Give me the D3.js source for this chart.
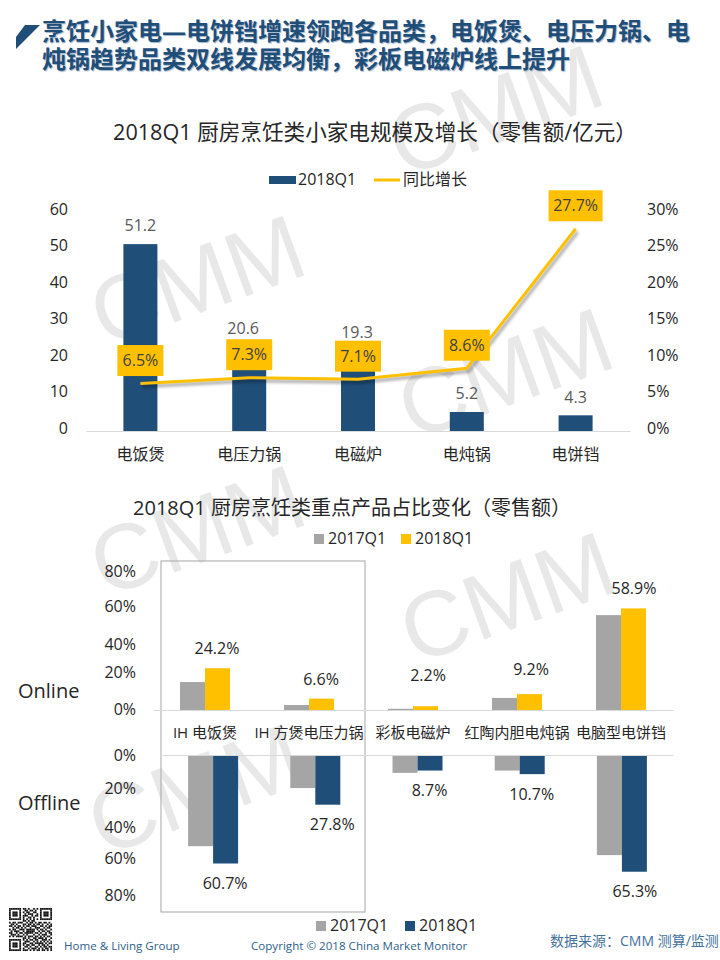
<!DOCTYPE html>
<html>
<head>
<meta charset="utf-8">
<script src="https://cdn.jsdelivr.net/npm/d3@7"></script>
<style>
  html, body { margin: 0; padding: 0; background: #fff; }
  text { font-family: "Open Sans", "Noto Sans CJK SC", sans-serif; }
  .domain { stroke: #d9d9d9; }
</style>
</head>
<body>
<svg id="chart" width="720" height="960"></svg>
<script>
// top chart
var categories = ["电饭煲", "电压力锅", "电磁炉", "电炖锅", "电饼铛"];
var sales = [51.2, 20.6, 19.3, 5.2, 4.3];
var growth = [6.5, 7.3, 7.1, 8.6, 27.7];
var salesTicks = [0, 10, 20, 30, 40, 50, 60];
var growthTicks = [0, 5, 10, 15, 20, 25, 30];

// bottom chart
var products = ["IH 电饭煲", "IH 方煲电压力锅", "彩板电磁炉", "红陶内胆电炖锅", "电脑型电饼铛"];
var online2017 = [16.2, 2.9, 0.7, 7, 55];
var online2018 = [24.2, 6.6, 2.2, 9.2, 58.9];
var offline2017 = [51, 18.5, 10, 8.7, 56];
var offline2018 = [60.7, 27.8, 8.7, 10.7, 65.3];
var shareTicks = [0, 20, 40, 60, 80];

var titleLines = ["烹饪小家电—电饼铛增速领跑各品类，电饭煲、电压力锅、电", "炖锅趋势品类双线发展均衡，彩板电磁炉线上提升"];

var blue = "#1f4e79", yellow = "#ffc000", gray = "#a5a5a5", ink = "#262626";

var svg = d3.select("#chart");

svg.append("defs").append("filter").attr("id", "blur")
  .append("feGaussianBlur").attr("stdDeviation", 1.5);

function label(x, y, str, size, opts) {
  opts = opts || {};
  return svg.append("text")
    .attr("x", x).attr("y", y)
    .attr("dy", "0.35em")
    .attr("text-anchor", opts.anchor || "middle")
    .attr("font-size", size)
    .attr("font-weight", opts.weight || null)
    .attr("fill", opts.fill || ink)
    .text(str);
}

// watermarks
[[495, 110], [197, 280], [505, 373], [197, 530], [507, 597], [195, 789]].forEach(function (p) {
  svg.append("text")
    .attr("transform", "translate(" + p[0] + "," + p[1] + ") rotate(-20)")
    .attr("text-anchor", "middle")
    .attr("dy", "0.35em")
    .attr("font-size", 92)
    .attr("fill", "#e8e8e8")
    .style("font-family", "'Liberation Sans'")
    .text("CMM");
});

// header
svg.append("path").attr("d", "M40,25L25,25L16,37L16,49Z").attr("fill", blue);
var header = svg.append("text")
  .attr("font-size", 24).attr("font-weight", 700).attr("fill", blue)
  .style("text-shadow", "1px 1px 1px #9fb3c8");
titleLines.forEach(function (t, i) {
  header.append("tspan").attr("x", 42).attr("y", 40 + i * 28).text(t);
});

// ---- top chart ----
label(375, 132, "2018Q1 厨房烹饪类小家电规模及增长（零售额/亿元）", 21.6);

var x1 = d3.scaleBand().domain(categories).range([86, 630]);
var ySales = d3.scaleLinear().domain([0, 60]).range([431, 212]);
var yGrowth = d3.scaleLinear().domain([0, 30]).range([431, 212]);

svg.append("rect").attr("x", 269).attr("y", 176).attr("width", 27).attr("height", 8).attr("fill", blue);
label(298, 179, "2018Q1", 16, { anchor: "start" });
svg.append("line").attr("x1", 374).attr("x2", 400).attr("y1", 180).attr("y2", 180)
  .attr("stroke", yellow).attr("stroke-width", 3);
label(403, 179, "同比增长", 16, { anchor: "start" });

svg.selectAll(".sale").data(sales).enter().append("rect")
  .attr("class", "sale")
  .attr("x", function (d, i) { return x1(categories[i]) + x1.bandwidth() / 2 - 17; })
  .attr("y", function (d) { return ySales(d); })
  .attr("width", 34)
  .attr("height", function (d) { return ySales(0) - ySales(d); })
  .attr("fill", blue);

var xAxis1 = svg.append("g").attr("transform", "translate(0,431)")
  .call(d3.axisBottom(x1).tickSize(0).tickPadding(18));
xAxis1.selectAll("text").attr("font-size", 16).attr("fill", ink);

var leftAxis = svg.append("g").attr("transform", "translate(68,-3)")
  .call(d3.axisLeft(ySales).tickValues(salesTicks).tickSize(0).tickPadding(0));
leftAxis.select(".domain").remove();
leftAxis.selectAll("text").attr("font-size", 16).attr("fill", ink);

var rightAxis = svg.append("g").attr("transform", "translate(647,-3)")
  .call(d3.axisRight(yGrowth).tickValues(growthTicks).tickSize(0).tickPadding(0)
    .tickFormat(function (d) { return d + "%"; }));
rightAxis.select(".domain").remove();
rightAxis.selectAll("text").attr("font-size", 16).attr("fill", ink);

var growthLine = d3.line()
  .x(function (d, i) { return x1(categories[i]) + x1.bandwidth() / 2; })
  .y(function (d) { return yGrowth(d); });

svg.append("path").datum(growth)
  .attr("d", growthLine)
  .attr("transform", "translate(2,3)")
  .attr("filter", "url(#blur)")
  .attr("fill", "none").attr("stroke", "#000").attr("stroke-opacity", 0.35).attr("stroke-width", 3);
svg.append("path").datum(growth)
  .attr("d", growthLine)
  .attr("fill", "none").attr("stroke", yellow).attr("stroke-width", 3);

// sales labels sit a bit off the bar, placed by hand in the original
var saleLift = [19, 27, 28, 19, 18], saleShift = [0, -6, -1, 0, 0];
sales.forEach(function (d, i) {
  var cx = x1(categories[i]) + x1.bandwidth() / 2;
  label(cx + saleShift[i], ySales(d) - saleLift[i], d.toFixed(1), 16, { fill: "#595959" });
});
growth.forEach(function (d, i) {
  var cx = x1(categories[i]) + x1.bandwidth() / 2;
  var cy = yGrowth(d) - 23;
  var w = i === 4 ? 54 : 46;
  svg.append("rect").attr("x", cx - w / 2).attr("y", cy - 15.5).attr("width", w).attr("height", 31).attr("fill", yellow);
  label(cx, cy, d.toFixed(1) + "%", 16, { fill: "#404040" });
});

// ---- bottom chart ----
label(352, 508, "2018Q1 厨房烹饪类重点产品占比变化（零售额）", 20);

function legendItem(x, y, color, str) {
  svg.append("rect").attr("x", x).attr("y", y - 5).attr("width", 10).attr("height", 10).attr("fill", color);
  label(x + 14, y - 1, str, 16, { anchor: "start" });
}
legendItem(314, 539, gray, "2017Q1");
legendItem(401, 539, yellow, "2018Q1");
legendItem(316, 926, gray, "2017Q1");
legendItem(405, 926, blue, "2018Q1");

svg.append("rect").attr("x", 161).attr("y", 561).attr("width", 204).attr("height", 351)
  .attr("fill", "none").attr("stroke", gray).attr("stroke-width", 1);

var xOn = d3.scaleBand().domain(products).range([153, 673]);
var xOff = d3.scaleBand().domain(products).range([162, 673]);
var yOn = d3.scaleLinear().domain([0, 80]).range([710, 572]);
var yOff = d3.scaleLinear().domain([0, 80]).range([755, 898]);
var barW = 25;

function bars(values, xs, ys, color, side) {
  svg.selectAll(null).data(values).enter().append("rect")
    .attr("x", function (d, i) { return xs(products[i]) + xs.bandwidth() / 2 + (side < 0 ? -barW : 0); })
    .attr("y", function (d) { return Math.min(ys(d), ys(0)); })
    .attr("width", barW)
    .attr("height", function (d) { return Math.abs(ys(d) - ys(0)); })
    .attr("fill", color);
}
bars(online2017, xOn, yOn, gray, -1);
bars(online2018, xOn, yOn, yellow, 1);
bars(offline2017, xOff, yOff, gray, -1);
bars(offline2018, xOff, yOff, blue, 1);

var xAxisOn = svg.append("g").attr("transform", "translate(0,710)")
  .call(d3.axisBottom(xOn).tickSize(0).tickPadding(17));
xAxisOn.selectAll("text").attr("font-size", 15).attr("fill", ink);

var xAxisOff = svg.append("g").attr("transform", "translate(0,755)")
  .call(d3.axisBottom(xOff).tickSize(0).tickFormat(""));

// the tick labels were nudged by hand in the original, they are not evenly spaced
[[yOn, -1, [0, -2, 4, 1, 0]], [yOff, 0, [0, -2, 1, -4, -3]]].forEach(function (a) {
  var g = svg.append("g").attr("transform", "translate(136," + a[1] + ")")
    .call(d3.axisLeft(a[0]).tickValues(shareTicks).tickSize(0).tickPadding(0)
      .tickFormat(function (d) { return d + "%"; }));
  g.select(".domain").remove();
  g.selectAll("text").attr("font-size", 16).attr("fill", ink)
    .attr("transform", function (d, i) { return "translate(0," + a[2][i] + ")"; });
});

label(18, 691, "Online", 20, { anchor: "start" });
label(18, 803, "Offline", 20, { anchor: "start" });

var onLift = [20, 19, 31, 25, 20], onShift = [12, 12, 15, 14, 13];
online2018.forEach(function (d, i) {
  label(xOn(products[i]) + xOn.bandwidth() / 2 + onShift[i], yOn(d) - onLift[i], d.toFixed(1) + "%", 16);
});
var offShift = [12, 17, 12, 12, 13];
offline2018.forEach(function (d, i) {
  label(xOff(products[i]) + xOff.bandwidth() / 2 + offShift[i], yOff(d) + 20, d.toFixed(1) + "%", 16);
});

// ---- footer ----
label(64, 946, "Home & Living Group", 11.6, { anchor: "start", fill: "#2f5f8a" });
label(251, 946, "Copyright © 2018 China Market Monitor", 11.6, { anchor: "start", fill: "#2f5f8a" });
label(550, 941, "数据来源：CMM 测算/监测", 14, { anchor: "start", fill: "#44729c" });

// qr code block
var qrRows = [
  "1111111011010010101111111",
  "1000001001101101001000001",
  "1011101010110011001011101",
  "1011101001011100101011101",
  "1011101011100101101011101",
  "1000001010011010001000001",
  "1111111010101010101111111",
  "0000000011010110000000000",
  "1011011100101101011011010",
  "0110100011011010110100101",
  "1101011010110111001101011",
  "0010110101001001110010110",
  "1011001110111110101101001",
  "0101110010111110010110110",
  "1100101101111101101001011",
  "0111010010100010010111001",
  "1010111101011101101010110",
  "0000000011010011011101001",
  "1111111010101101100111010",
  "1000001001110010101010101",
  "1011101011001101111101011",
  "1011101010110110010110100",
  "1011101001101001101011011",
  "1000001010010111010101101",
  "1111111011101010110110101"
];
var qrScale = d3.scaleLinear().domain([0, 25]);
qrRows.forEach(function (row, r) {
  row.split("").forEach(function (c, k) {
    if (c !== "1") return;
    svg.append("rect")
      .attr("x", qrScale.range([9, 52])(k))
      .attr("y", qrScale.range([908, 951])(r))
      .attr("width", 1.75).attr("height", 1.75)
      .attr("fill", "#111");
  });
});
</script>
</body>
</html>
